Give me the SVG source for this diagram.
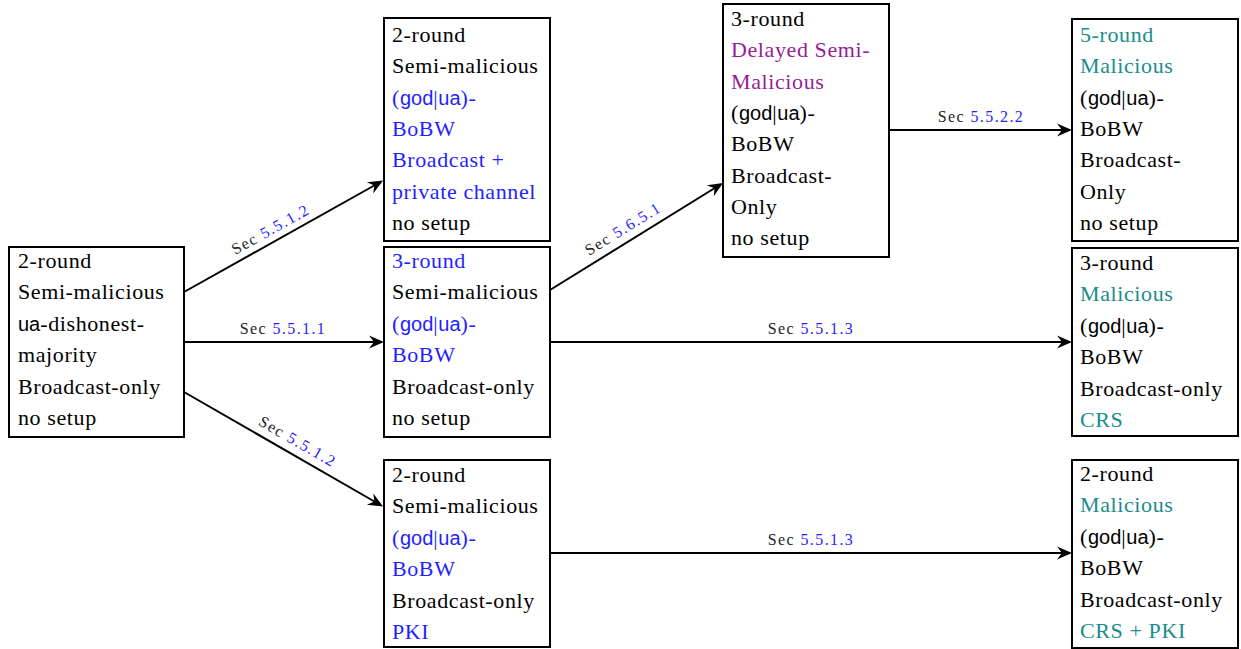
<svg xmlns="http://www.w3.org/2000/svg" width="1241" height="649" viewBox="0 0 1241 649">
<style>
.box{fill:#fff;stroke:#000;stroke-width:2}
.t{font-family:"Liberation Serif",serif;font-size:22px;letter-spacing:0.6px;fill:#000}
.sf{font-family:"Liberation Sans",sans-serif;font-size:20px;letter-spacing:0}
.b{fill:#1f1fff}
.tl{fill:#1a8c8c}
.pu{fill:#951e95}
.e{fill:none;stroke:#000;stroke-width:2;marker-end:url(#arr)}
.el{font-family:"Liberation Serif",serif;font-size:16px;letter-spacing:1.4px;fill:#222;text-anchor:middle}
</style>
<defs>
<marker id="arr" viewBox="-16 -8 18 16" refX="-3" refY="0" markerWidth="18" markerHeight="16" orient="auto" markerUnits="userSpaceOnUse">
<path d="M0,0 L-15,-6.5 L-10,0 L-15,6.5 Z" fill="#000"/>
</marker>
</defs>

<g id="connectors">
<path class="e" d="M184,292 L380.5,182"/>
<path class="e" d="M184,342 L381,342"/>
<path class="e" d="M184,392 L380.5,505"/>
<path class="e" d="M550,290 L720.5,184.5"/>
<path class="e" d="M889,130 L1069,130"/>
<path class="e" d="M550,342 L1069,342"/>
<path class="e" d="M550,553 L1069,553"/>
<g transform="translate(277,241) rotate(-29.2)"><text class="el" x="0" y="-8">Sec <tspan class="b">5.5.1.2</tspan></text></g>
<text class="el" x="283" y="334">Sec <tspan class="b">5.5.1.1</tspan></text>
<g transform="translate(291,453) rotate(29.9)"><text class="el" x="0" y="-8">Sec <tspan class="b">5.5.1.2</tspan></text></g>
<g transform="translate(630,240) rotate(-31.7)"><text class="el" x="0" y="-8">Sec <tspan class="b">5.6.5.1</tspan></text></g>
<text class="el" x="981" y="122">Sec <tspan class="b">5.5.2.2</tspan></text>
<text class="el" x="811" y="334">Sec <tspan class="b">5.5.1.3</tspan></text>
<text class="el" x="811" y="545">Sec <tspan class="b">5.5.1.3</tspan></text>
</g>

<g id="nodeA">
<rect class="box" x="9" y="247" width="175" height="190"/>
<text class="t" x="18" y="268">2-round</text>
<text class="t" x="18" y="299.4">Semi-malicious</text>
<text class="t" x="18" y="330.8"><tspan class="sf">ua</tspan>-dishonest-</text>
<text class="t" x="18" y="362.2">majority</text>
<text class="t" x="18" y="393.6">Broadcast-only</text>
<text class="t" x="18" y="425">no setup</text>
</g>

<g id="nodeB1">
<rect class="box" x="384" y="18" width="166" height="223"/>
<text class="t" x="392" y="41.7">2-round</text>
<text class="t" x="392" y="73.1">Semi-malicious</text>
<text class="t b" x="392" y="104.5">(<tspan class="sf">god</tspan>|<tspan class="sf">ua</tspan>)-</text>
<text class="t b" x="392" y="135.9">BoBW</text>
<text class="t b" x="392" y="167.3">Broadcast +</text>
<text class="t b" x="392" y="198.7">private channel</text>
<text class="t" x="392" y="230.1">no setup</text>
</g>

<g id="nodeB2">
<rect class="box" x="384" y="247" width="166" height="190"/>
<text class="t b" x="392" y="268">3-round</text>
<text class="t" x="392" y="299.4">Semi-malicious</text>
<text class="t b" x="392" y="330.8">(<tspan class="sf">god</tspan>|<tspan class="sf">ua</tspan>)-</text>
<text class="t b" x="392" y="362.2">BoBW</text>
<text class="t" x="392" y="393.6">Broadcast-only</text>
<text class="t" x="392" y="425">no setup</text>
</g>

<g id="nodeB3">
<rect class="box" x="384" y="460" width="166" height="187"/>
<text class="t" x="392" y="482">2-round</text>
<text class="t" x="392" y="513.4">Semi-malicious</text>
<text class="t b" x="392" y="544.8">(<tspan class="sf">god</tspan>|<tspan class="sf">ua</tspan>)-</text>
<text class="t b" x="392" y="576.2">BoBW</text>
<text class="t" x="392" y="607.6">Broadcast-only</text>
<text class="t b" x="392" y="639">PKI</text>
</g>

<g id="nodeC">
<rect class="box" x="723" y="4" width="166" height="253"/>
<text class="t" x="731" y="26">3-round</text>
<text class="t pu" x="731" y="57.3">Delayed Semi-</text>
<text class="t pu" x="731" y="88.6">Malicious</text>
<text class="t" x="731" y="119.9">(<tspan class="sf">god</tspan>|<tspan class="sf">ua</tspan>)-</text>
<text class="t" x="731" y="151.2">BoBW</text>
<text class="t" x="731" y="182.5">Broadcast-</text>
<text class="t" x="731" y="213.8">Only</text>
<text class="t" x="731" y="245.1">no setup</text>
</g>

<g id="nodeD1">
<rect class="box" x="1072" y="19" width="166" height="222"/>
<text class="t tl" x="1080" y="41.7">5-round</text>
<text class="t tl" x="1080" y="73.1">Malicious</text>
<text class="t" x="1080" y="104.5">(<tspan class="sf">god</tspan>|<tspan class="sf">ua</tspan>)-</text>
<text class="t" x="1080" y="135.9">BoBW</text>
<text class="t" x="1080" y="167.3">Broadcast-</text>
<text class="t" x="1080" y="198.7">Only</text>
<text class="t" x="1080" y="230.1">no setup</text>
</g>

<g id="nodeD2">
<rect class="box" x="1072" y="248" width="166" height="188"/>
<text class="t" x="1080" y="270">3-round</text>
<text class="t tl" x="1080" y="301.4">Malicious</text>
<text class="t" x="1080" y="332.8">(<tspan class="sf">god</tspan>|<tspan class="sf">ua</tspan>)-</text>
<text class="t" x="1080" y="364.2">BoBW</text>
<text class="t" x="1080" y="395.6">Broadcast-only</text>
<text class="t tl" x="1080" y="427">CRS</text>
</g>

<g id="nodeD3">
<rect class="box" x="1072" y="460" width="166" height="188"/>
<text class="t" x="1080" y="481">2-round</text>
<text class="t tl" x="1080" y="512.4">Malicious</text>
<text class="t" x="1080" y="543.8">(<tspan class="sf">god</tspan>|<tspan class="sf">ua</tspan>)-</text>
<text class="t" x="1080" y="575.2">BoBW</text>
<text class="t" x="1080" y="606.6">Broadcast-only</text>
<text class="t tl" x="1080" y="638">CRS + PKI</text>
</g>
</svg>
